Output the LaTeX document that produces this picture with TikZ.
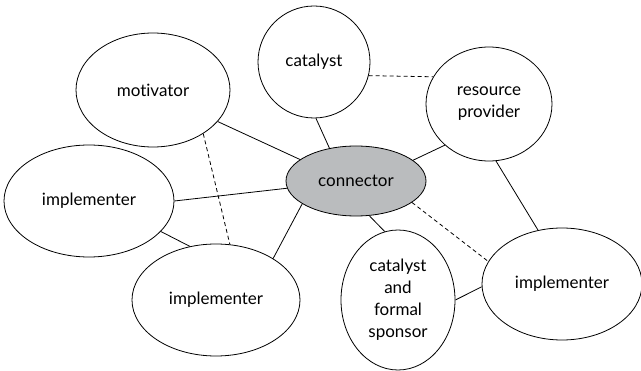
\documentclass[tikz,border=0pt]{standalone}
\usepackage{fontspec}
\setmainfont[Ligatures=NoCommon]{Lato}
\usetikzlibrary{shapes.geometric}
\definecolor{conngray}{RGB}{186,188,190}
\tikzset{
  blob/.style={ellipse, draw, line width=0.8pt, fill=white, inner sep=0pt, align=center, font=\fontsize{17}{22}\selectfont},
  link/.style={line width=0.8pt},
  dlink/.style={line width=0.8pt, dash pattern=on 4pt off 3pt}
}
\begin{document}
\begin{tikzpicture}[x=1pt,y=-1pt]
\useasboundingbox (0,0) rectangle (641,371);
\node[blob, minimum width=154pt, minimum height=114pt] (mot) at (153,90) {motivator};
\node[blob, minimum width=112pt, minimum height=112pt] (cat) at (314,62) {catalyst};
\node[blob, minimum width=126pt, minimum height=114pt] (res) at (489,104) {resource\\provider};
\node[blob, minimum width=140pt, minimum height=70pt, fill=conngray] (con) at (356,181) {connector};
\node[blob, minimum width=170pt, minimum height=112pt] (impl) at (89,201) {implementer};
\node[blob, minimum width=168pt, minimum height=112pt] (impb) at (216,300) {implementer};
\node[blob, minimum width=114pt, minimum height=140pt] (spon) at (398,300) {catalyst\\and\\formal\\sponsor};
\node[blob, minimum width=160pt, minimum height=112pt] (impr) at (562,284) {implementer};

\draw[link] (mot.-26) -- (con.159);
\draw[link] (cat.-88) -- (con.129);
\draw[dlink] (cat.-14) -- (res.154);
\draw[link] (res.-137) -- (con.20);
\draw[link] (res.-83) -- (impr.114);
\draw[link] (impl.0) -- (con.186);
\draw[link] (impl.-23) -- (impb.116);
\draw[dlink] (mot.-41) -- (impb.76);
\draw[link] (con.203) -- (impb.36);
\draw[link] (con.-69) -- (spon.101);
\draw[dlink] (con.-21) -- (impr.163);
\draw[link] (spon.0) -- (impr.182);
\end{tikzpicture}
\end{document}
